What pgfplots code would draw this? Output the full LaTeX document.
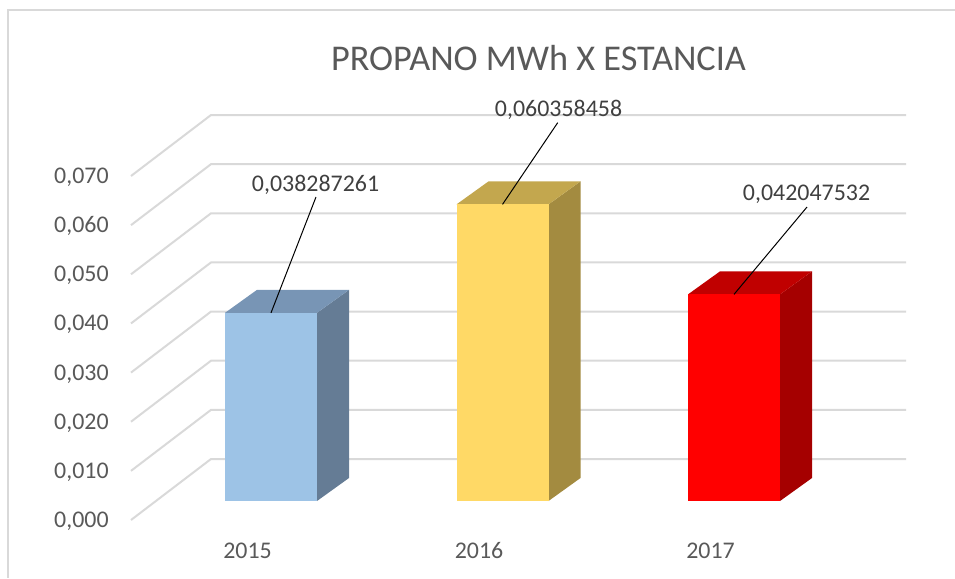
\documentclass[border=0pt]{standalone}
\usepackage{fontspec}
\setmainfont{Carlito}
\usepackage{pgfplots}
\usepackage{pgfplotstable}
\pgfplotsset{compat=1.18}

\definecolor{gridgray}{HTML}{D9D9D9}
\definecolor{txtgray}{HTML}{595959}
\definecolor{lblgray}{HTML}{404040}
\definecolor{frontA}{HTML}{9DC3E6}
\definecolor{sideA}{HTML}{657C95}
\definecolor{topA}{HTML}{7895B5}
\definecolor{frontB}{HTML}{FFD966}
\definecolor{sideB}{HTML}{A38B40}
\definecolor{topB}{HTML}{C3A74E}
\definecolor{frontC}{HTML}{FF0000}
\definecolor{sideC}{HTML}{A50000}
\definecolor{topC}{HTML}{C00000}

% faces of a unit box: u = across the bar, d = into depth, h = up
\pgfplotstableread{
u d h
0 0 0
1 0 0
1 0 1
0 0 1
}\frontface
\pgfplotstableread{
u d h
1 0 0
1 1 0
1 1 1
1 0 1
}\sideface
\pgfplotstableread{
u d h
0 0 1
1 0 1
1 1 1
0 1 1
}\topface
% floor-to-wall grid line, d = 0 front, 1 back wall
\pgfplotstableread{
x d
131 0
211 1
906 1
}\gridpath

% x in px, 1px = 0.5bp; bar 92px wide, depth (32px, 0.00468)
% #1 left edge, #2 value, #3 front, #4 side, #5 top
\newcommand{\boxbar}[5]{%
  \addplot[fill=#4, draw=none] table[x expr={#1+92*\thisrow{u}+32*\thisrow{d}},
    y expr={0.003867+#2*\thisrow{h}+0.00468*\thisrow{d}}] {\sideface};
  \addplot[fill=#5, draw=none] table[x expr={#1+92*\thisrow{u}+32*\thisrow{d}},
    y expr={0.003867+#2*\thisrow{h}+0.00468*\thisrow{d}}] {\topface};
  \addplot[fill=#3, draw=none] table[x expr={#1+92*\thisrow{u}+32*\thisrow{d}},
    y expr={0.003867+#2*\thisrow{h}+0.00468*\thisrow{d}}] {\frontface};
}

\begin{document}
\begin{tikzpicture}
\begin{axis}[
    x=0.5bp, y=2457bp,
    xmin=131, xmax=906,
    ymin=0, ymax=0.09,
    clip=false,
    axis line style={draw=none},
    major tick length=0pt,
    scaled y ticks=false,
    ytick={0,0.01,...,0.07},
    xtick={247.5,479,710.5},
    xticklabels={2015,2016,2017},
    /pgf/number format/.cd, fixed, fixed zerofill, precision=3, use comma,
      assume math mode=true,
    /pgfplots/.cd,
    ticklabel style={font=\fontsize{12}{14}\selectfont, text=txtgray, inner sep=0pt},
    yticklabel style={anchor=base east, xshift=-11bp, yshift=-3.75bp},
    xticklabel style={anchor=base, yshift=-19bp},
]
% chart frame
\addplot[gridgray, line width=1bp] coordinates {(8,-0.0118) (8,0.10378) (955,0.10378)};
% gridlines: diagonal on the floor, then along the back wall
\pgfplotsinvokeforeach{0,...,7}{
  \addplot[gridgray, line width=1bp] table[x=x, y expr={0.01*#1+0.012414*\thisrow{d}}] {\gridpath};
}

\boxbar{225}{0.038287261}{frontA}{sideA}{topA}
\boxbar{456.5}{0.060358458}{frontB}{sideB}{topB}
\boxbar{688}{0.042047532}{frontC}{sideC}{topC}

% leader lines
\addplot[black, line width=0.5bp] coordinates {(316,0.06573) (271,0.042154)};
\addplot[black, line width=0.5bp] coordinates {(557.7,0.08085) (502.5,0.064225)};
\addplot[black, line width=0.5bp] coordinates {(807,0.06369) (734,0.045915)};

\begin{scope}[every node/.style={anchor=base, font=\fontsize{12}{14}\selectfont, text=lblgray}]
\node at (axis cs:315.5,0.06695) {0,038287261};
\node at (axis cs:558.5,0.08221) {0,060358458};
\node at (axis cs:806.5,0.06498) {0,042047532};
\end{scope}

\node[anchor=base, font=\fontsize{18.2}{22}\selectfont, text=txtgray]
  at (axis cs:538.5,0.091372) {PROPANO MWh X ESTANCIA};

\coordinate (bbl) at (axis cs:0,-0.011803);
\coordinate (btr) at (axis cs:955,0.10582);
\end{axis}
\pgfresetboundingbox
\path[use as bounding box] (bbl) rectangle (btr);
\end{tikzpicture}
\end{document}
